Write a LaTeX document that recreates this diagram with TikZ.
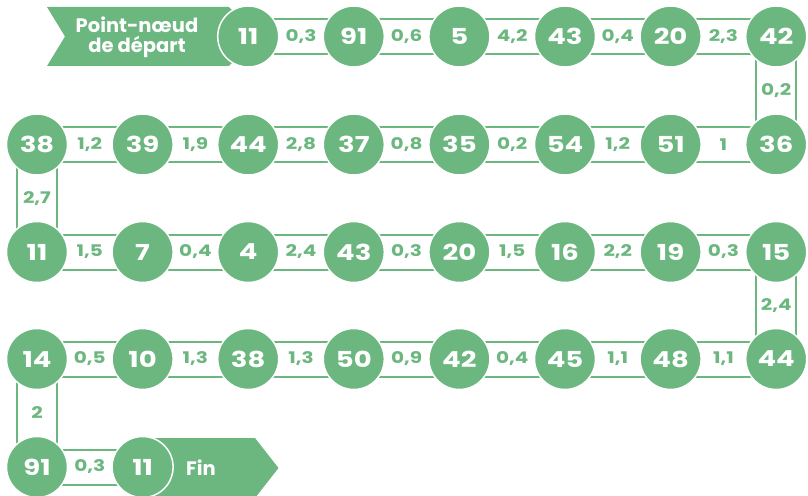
\documentclass[tikz,border=0pt]{standalone}
\usepackage{fontspec}
\setmainfont{Poppins}
\newfontfamily\numfont[FakeStretch=1.25]{Poppins}
\usetikzlibrary{backgrounds}
\definecolor{pg}{RGB}{107,183,127}
\begin{document}
\begin{tikzpicture}[x=1pt,y=-1pt,
  num/.style={circle, fill=pg, draw=white, line width=1.5pt, minimum size=61pt, inner sep=0pt, text=white, font=\numfont\bfseries\fontsize{22}{22}\selectfont},
  lab/.style={text=pg, font=\numfont\bfseries\fontsize{16}{16}\selectfont, inner sep=0pt},
  hpipe/.style={draw=pg, line width=2pt, double=white, double distance=33pt},
  vpipe/.style={draw=pg, line width=2pt, double=white, double distance=38pt},
  banner/.style={fill=pg, draw=none},
  btext/.style={text=white, font=\bfseries\fontsize{19.5}{20}\selectfont, align=center, inner sep=0pt}]
\useasboundingbox (0,0) rectangle (808,495);
% row 1
\foreach \v [count=\i from 2] in {11,91,5,43,20,42}
  \node[num] (a\i) at ({37+105.6*\i},36.5) {\v};
% row 2
\foreach \v [count=\i from 0] in {38,39,44,37,35,54,51,36}
  \node[num] (b\i) at ({37+105.6*\i},144.5) {\v};
% row 3
\foreach \v [count=\i from 0] in {11,7,4,43,20,16,19,15}
  \node[num] (c\i) at ({37+105.6*\i},252) {\v};
% row 4
\foreach \v [count=\i from 0] in {14,10,38,50,42,45,48,44}
  \node[num] (d\i) at ({37+105.6*\i},359) {\v};
% row 5
\node[num] (e0) at (37,467) {91};
\node[num] (e1) at (142.6,467) {11};
\begin{scope}[on background layer]
  % banners
  \fill[banner] (47,7) -- (229,7) -- (258,36.5) -- (229,66) -- (47,66) -- (65,36.5) -- cycle;
  \node[btext] (start) at (137,37) {Point-nœud\\de départ};
  \fill[banner] (143,438) -- (255,438) -- (278.5,468) -- (255,498) -- (143,498) -- cycle;
  \node[btext] (fin) at (201,468) {Fin};
  % row 1 pipes
  \foreach \l [count=\i from 2] in {{0,3},{0,6},{4,2},{0,4},{2,3}} {
    \pgfmathtruncatemacro\j{\i+1}
    \draw[hpipe] (a\i.center) -- node[lab]{\l} (a\j.center);
  }
  \draw[vpipe] (a7.center) -- node[lab]{0,2} (b7.center);
  \foreach \l [count=\i from 0] in {{1,2},{1,9},{2,8},{0,8},{0,2},{1,2},1} {
    \pgfmathtruncatemacro\j{\i+1}
    \draw[hpipe] (b\i.center) -- node[lab]{\l} (b\j.center);
  }
  \draw[vpipe] (b0.center) -- node[lab]{2,7} (c0.center);
  \foreach \l [count=\i from 0] in {{1,5},{0,4},{2,4},{0,3},{1,5},{2,2},{0,3}} {
    \pgfmathtruncatemacro\j{\i+1}
    \draw[hpipe] (c\i.center) -- node[lab]{\l} (c\j.center);
  }
  \draw[vpipe] (c7.center) -- node[lab]{2,4} (d7.center);
  \foreach \l [count=\i from 0] in {{0,5},{1,3},{1,3},{0,9},{0,4},{1,1},{1,1}} {
    \pgfmathtruncatemacro\j{\i+1}
    \draw[hpipe] (d\i.center) -- node[lab]{\l} (d\j.center);
  }
  \draw[vpipe] (d0.center) -- node[lab]{2} (e0.center);
  \draw[hpipe] (e0.center) -- node[lab]{0,3} (e1.center);
\end{scope}
\end{tikzpicture}
\end{document}
